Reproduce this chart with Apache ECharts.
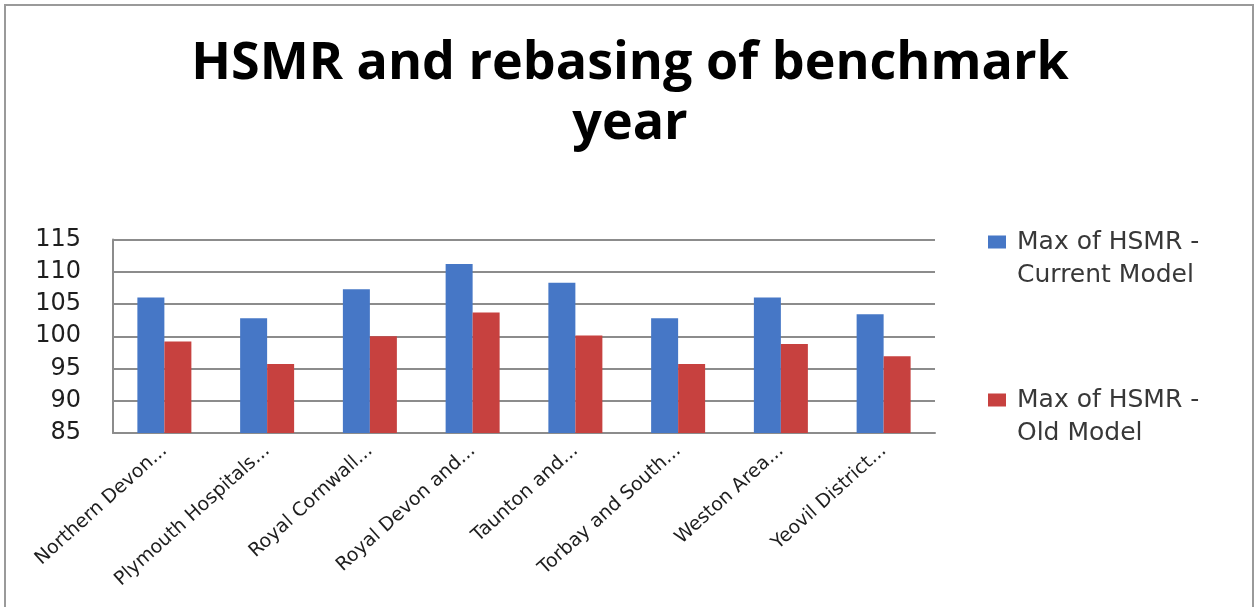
<!DOCTYPE html>
<html>
<head>
<meta charset="utf-8">
<script src="https://cdn.jsdelivr.net/npm/echarts@6/dist/echarts.min.js"></script>
<style>
  html, body { margin: 0; padding: 0; background: #ffffff; }
  #chart { width: 1260px; height: 607px; }
</style>
</head>
<body>
<div id="chart"></div>
<script>
// Hospital trusts (labels truncated as in the source workbook)
const categories = [
  'Northern Devon...',
  'Plymouth Hospitals...',
  'Royal Cornwall...',
  'Royal Devon and...',
  'Taunton and...',
  'Torbay and South...',
  'Weston Area...',
  'Yeovil District...'
];

// Maximum HSMR per trust under each model
const currentModel = [106.0, 102.8, 107.3, 111.2, 108.3, 102.8, 106.0, 103.4];
const oldModel     = [99.2, 95.7, 100.0, 103.7, 100.1, 95.7, 98.8, 96.9];

const seriesNames = ['Max of HSMR -\nCurrent Model', 'Max of HSMR -\nOld Model'];
const yTicks = { min: 85, max: 115, step: 5 };

const chart = echarts.init(document.getElementById('chart'));

const gridColor = '#8c8c8c';
const textColor = '#1e1e1e';

// Legend swatch sits beside the first text line: the square is drawn at the
// top of a tall, otherwise empty path box the height of a two-line label.
const swatch = 'path://M0,10H18V23H0Z M0,0 M18,66';

chart.setOption({
  backgroundColor: '#ffffff',
  animation: false,
  title: {
    text: 'HSMR and rebasing of benchmark\nyear',
    left: 'center',
    top: 29,
    textStyle: {
      fontFamily: 'Open Sans',
      fontWeight: 'bold',
      fontSize: 52,
      lineHeight: 60,
      color: '#000000'
    }
  },
  legend: {
    orient: 'vertical',
    left: 983,
    top: 220.5,
    itemWidth: 18,
    itemHeight: 66,
    itemGap: 92,
    icon: swatch,
    data: seriesNames,
    textStyle: {
      fontFamily: 'DejaVu Sans',
      fontSize: 25,
      lineHeight: 33,
      color: '#383838',
      padding: [0, 0, 0, 6]
    }
  },
  grid: {
    left: 113,
    right: 325,
    top: 239.5,
    bottom: 174,
    containLabel: false
  },
  xAxis: {
    type: 'category',
    data: categories,
    axisLine: { show: true, lineStyle: { color: gridColor, width: 2 } },
    axisTick: { show: false },
    axisLabel: {
      rotate: 42,
      margin: 15,
      interval: 0,
      fontFamily: 'DejaVu Sans',
      fontSize: 19,
      color: textColor
    }
  },
  yAxis: {
    type: 'value',
    min: yTicks.min,
    max: yTicks.max,
    interval: yTicks.step,
    axisLine: { show: true, lineStyle: { color: gridColor, width: 2 } },
    axisTick: { show: false },
    splitLine: { show: true, lineStyle: { color: gridColor, width: 2 } },
    axisLabel: {
      margin: 32,
      fontFamily: 'DejaVu Sans',
      fontSize: 24,
      color: textColor
    }
  },
  series: [
    {
      name: seriesNames[0],
      type: 'bar',
      data: currentModel,
      barWidth: 27,
      barGap: '0%',
      itemStyle: { color: '#4677C6' }
    },
    {
      name: seriesNames[1],
      type: 'bar',
      data: oldModel,
      barWidth: 27,
      barGap: '0%',
      itemStyle: { color: '#C7413F' }
    }
  ],
  graphic: [
    {
      type: 'rect',
      shape: { x: 5, y: 5, width: 1248, height: 610 },
      style: { fill: 'none', stroke: '#9a9a9a', lineWidth: 2 },
      silent: true
    }
  ]
});
</script>
</body>
</html>
